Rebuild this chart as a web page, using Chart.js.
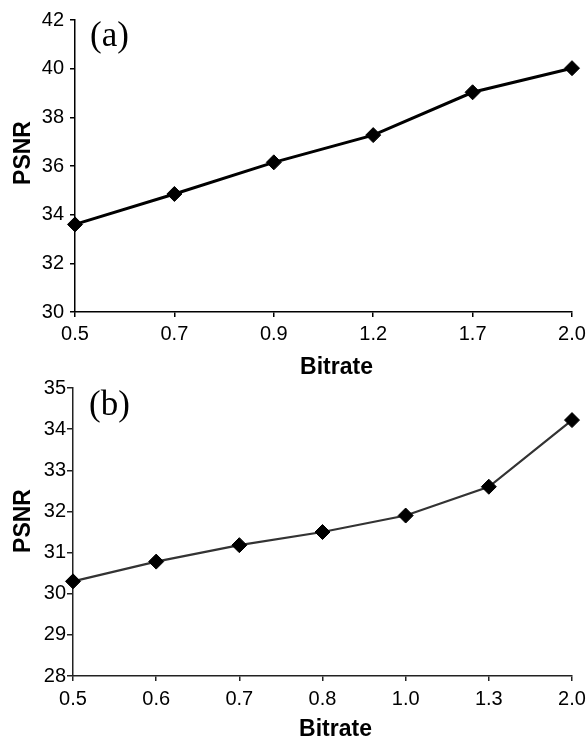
<!DOCTYPE html>
<html>
<head>
<meta charset="utf-8">
<script src="https://cdn.jsdelivr.net/npm/chart.js@4"></script>
<style>
  html, body { margin: 0; padding: 0; background: #fff; }
  body { width: 586px; height: 740px; position: relative; overflow: hidden; }
  .box { position: absolute; left: 0; width: 586px; }
  #boxA { top: 0; height: 380px; }
  #boxB { top: 370px; height: 370px; }
</style>
</head>
<body>
<div class="box" id="boxA"><canvas id="chartA"></canvas></div>
<div class="box" id="boxB"><canvas id="chartB"></canvas></div>
<script>
// ---- Data ----
const bitrateA = ['0.5', '0.7', '0.9', '1.2', '1.7', '2.0'];
const psnrA = [33.6, 34.85, 36.15, 37.27, 39.03, 40.02];
const yTicksA = { min: 30, max: 42, step: 2 };

const bitrateB = ['0.5', '0.6', '0.7', '0.8', '1.0', '1.3', '2.0'];
const psnrB = [30.3, 30.78, 31.18, 31.5, 31.9, 32.6, 34.22];
const yTicksB = { min: 28, max: 35, step: 1 };

const panelLabels = ['(a)', '(b)'];
const xTitle = 'Bitrate';
const yTitle = 'PSNR';

Chart.defaults.animation = false;
Chart.defaults.font.family = '"Liberation Sans", Arial, sans-serif';
Chart.defaults.color = '#000';

function panelLabelPlugin(text, dx, dy) {
  return {
    id: 'panelLabel',
    afterDraw(chart) {
      const ctx = chart.ctx;
      ctx.save();
      ctx.font = '35px "Liberation Serif", "Times New Roman", serif';
      ctx.fillStyle = '#000';
      ctx.textBaseline = 'alphabetic';
      ctx.textAlign = 'left';
      ctx.fillText(text, chart.chartArea.left + dx, chart.chartArea.top + dy);
      ctx.restore();
    }
  };
}

// shift an axis title by (dx, dy) pixels
function shiftTitle(scale, dx, dy) {
  if (scale._titleShifted) return;
  const orig = scale.drawTitle;
  scale.drawTitle = function () {
    this.ctx.save();
    this.ctx.translate(dx, dy);
    orig.apply(this, arguments);
    this.ctx.restore();
  };
  scale._titleShifted = true;
}

function makeChart(id, labels, values, yt, cfg) {
  return new Chart(document.getElementById(id), {
    type: 'line',
    data: {
      labels: labels,
      datasets: [{
        data: values,
        borderColor: cfg.lineColor,
        borderWidth: cfg.lineWidth,
        pointStyle: 'rectRot',
        pointRadius: 7.5,
        pointBorderWidth: 1,
        pointBackgroundColor: '#000',
        pointBorderColor: '#000',
        tension: 0,
        fill: false
      }]
    },
    options: {
      responsive: true,
      maintainAspectRatio: false,
      animation: false,
      layout: { padding: { top: cfg.padTop, right: 14, left: 0, bottom: 0 } },
      plugins: { legend: { display: false }, tooltip: { enabled: false } },
      scales: {
        x: {
          type: 'category',
          offset: false,
          grid: { drawOnChartArea: false, drawTicks: true, tickLength: 5, color: cfg.axisColor, lineWidth: 1.5 },
          border: { display: true, color: cfg.axisColor, width: 1.5 },
          ticks: { font: { size: 20 }, color: '#000', padding: cfg.xTickPad, maxRotation: 0, autoSkip: false },
          title: { display: true, text: xTitle, font: { size: 23, weight: 'bold', lineHeight: 1 }, color: '#000', padding: { top: 0, bottom: cfg.xTitlePadBottom } },
          afterFit(scale) {
            scale.height = cfg.xAxisHeight;
            scale.paddingLeft = 0;
            scale.paddingRight = 0;
          },
          afterUpdate(scale) { shiftTitle(scale, cfg.xTitleDx, 0); }
        },
        y: {
          min: yt.min,
          max: yt.max,
          grid: { drawOnChartArea: false, drawTicks: true, tickLength: cfg.yTickLen, color: cfg.axisColor, lineWidth: 1.5 },
          border: { display: true, color: cfg.axisColor, width: 1.5 },
          ticks: { stepSize: yt.step, font: { size: 20 }, color: '#000', padding: cfg.yTickPad },
          title: { display: true, text: yTitle, font: { size: 23, weight: 'bold', lineHeight: 1 }, color: '#000', padding: { top: 12.5, bottom: 0 } },
          afterFit(scale) { scale.width = cfg.yAxisWidth; },
          afterUpdate(scale) { shiftTitle(scale, 0, cfg.yTitleDy); }
        }
      }
    },
    plugins: [panelLabelPlugin(cfg.label, cfg.labelDx, cfg.labelDy)]
  });
}

makeChart('chartA', bitrateA, psnrA, yTicksA, {
  lineColor: '#000', lineWidth: 3, axisColor: '#000',
  padTop: 20, xAxisHeight: 68, yAxisWidth: 75,
  xTickPad: 5, yTickPad: 6, yTickLen: 5, xTitlePadBottom: 1,
  xTitleDx: 13, yTitleDy: -13,
  label: panelLabels[0], labelDx: 15, labelDy: 26
});

makeChart('chartB', bitrateB, psnrB, yTicksB, {
  lineColor: '#333', lineWidth: 2.2, axisColor: '#222',
  padTop: 18, xAxisHeight: 64, yAxisWidth: 73,
  xTickPad: 6, yTickPad: 1, yTickLen: 6, xTitlePadBottom: -1,
  xTitleDx: 13, yTitleDy: -11,
  label: panelLabels[1], labelDx: 16, labelDy: 27
});
</script>
</body>
</html>
